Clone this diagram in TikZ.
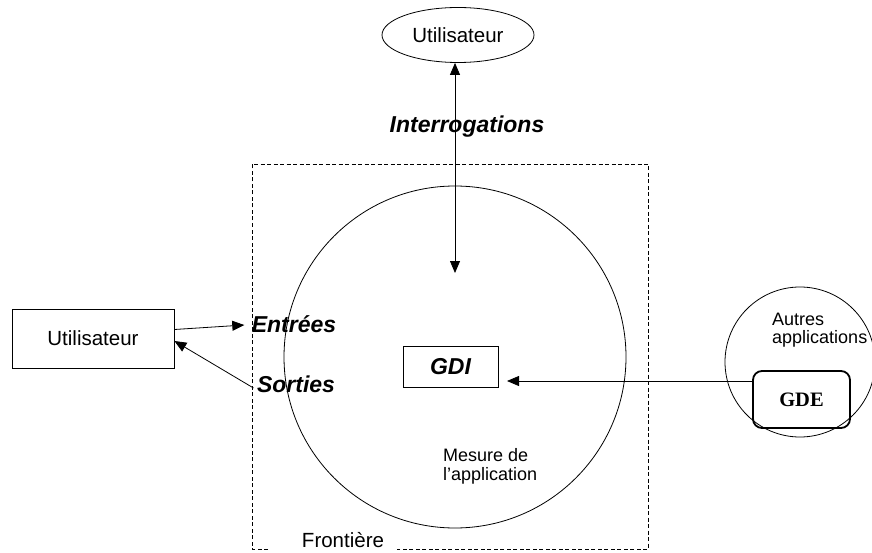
\documentclass[tikz,border=0pt]{standalone}
\usepackage{fontspec}
\setmainfont{Liberation Sans}
\newfontfamily\gdefont{Liberation Serif}
\usetikzlibrary{positioning, shapes.geometric, arrows.meta}

\tikzset{
  thinline/.style={line width=0.8pt, black},
  flow/.style={thinline, -{Triangle[length=12pt,width=10pt]}},
  flowboth/.style={thinline, {Triangle[length=12pt,width=10pt]}-{Triangle[length=12pt,width=10pt]}},
  plain/.style={font=\fontsize{20.5}{24}\selectfont},
  flowlabel/.style={font=\fontsize{23}{26}\selectfont\bfseries\itshape},
  userbox/.style={draw, thinline, minimum width=162pt, minimum height=59pt, inner sep=0pt, plain},
  border/.style={thinline, dash pattern=on 4pt off 2.5pt}
}

\begin{document}
\begin{tikzpicture}[x=1pt, y=-1pt]
  \useasboundingbox (0,0) rectangle (872,553);

  % utilisateur interrogeant
  \node[ellipse, draw, thinline, minimum width=152pt, minimum height=55pt, inner sep=0pt, plain] (usertop) at (458,35) {Utilisateur};
  \coordinate (askend) at (455,273);
  \draw[flowboth] (usertop.south -| askend) -- (askend);
  \node[flowlabel] (ask) at (467,127) {Interrogations};

  % frontiere de l'application
  \draw[border] (268,549) -- (252,549) -- (252,164) -- (648,164) -- (648,549) -- (397,549);
  \node[plain] (border) at (343,540) {Fronti\`ere};
  \draw[thinline] (455,357) circle (171);
  \node[align=left, anchor=north west, inner sep=0pt, font=\fontsize{18}{19}\selectfont] (measure) at (443,448) {Mesure de\\l'application};

  % GDI
  \node[draw, thinline, minimum width=95pt, minimum height=41pt, inner sep=0pt, flowlabel] (gdi) at (450.5,366.5) {GDI};

  % utilisateur entrees / sorties
  \node[userbox] (user) at (93,338.5) {Utilisateur};
  \node[flowlabel] (in) at (294,324) {Entr\'ees};
  \node[flowlabel] (out) at (296,384) {Sorties};
  \draw[flow] ([yshift=9pt]user.east) -- ([xshift=-4pt,yshift=-1pt]in.west);
  \draw[flow] ([yshift=-4pt]out.west) -- ([yshift=-2.5pt]user.east);

  % autres applications
  \draw[thinline] (800,362) circle (75);
  \node[align=left, anchor=north west, inner sep=0pt, font=\fontsize{18}{18}\selectfont] (others) at (772,313) {Autres\\applications};
  \node[draw, line width=1.8pt, rounded corners=9pt, minimum width=97pt, minimum height=57pt, inner sep=0pt, font=\fontsize{20.5}{24}\selectfont\gdefont\bfseries] (gde) at (801.5,399.5) {GDE};
  \coordinate (gdiin) at (507,381);
  \draw[flow] (gde.west |- gdiin) -- (gdiin);
\end{tikzpicture}
\end{document}
